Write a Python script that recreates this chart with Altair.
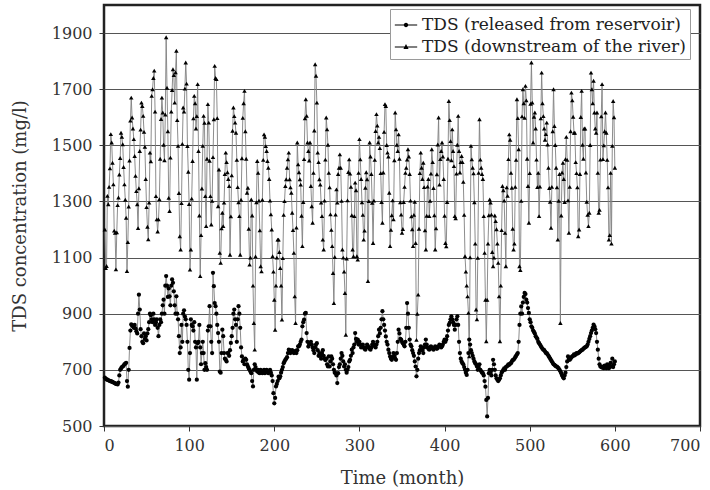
import altair as alt
import pandas as pd

# TDS downstream of the river (mg/l), one value per month
downstream = [
    1200, 1063, 1070, 1320, 1290, 1352, 1418, 1540, 1510, 1438, 1361, 1196,
    1188, 1058, 1190, 1287, 1314, 1396, 1455, 1545, 1530, 1504, 1423, 1361,
    1306, 1242, 1052, 1155, 1282, 1446, 1588, 1670, 1599, 1560, 1522, 1462,
    1391, 1337, 1290, 1205, 1347, 1480, 1556, 1652, 1640, 1605, 1548, 1495,
    1380, 1280, 1210, 1165, 1296, 1474, 1443, 1676, 1700, 1740, 1766, 1620,
    1319, 1236, 1193, 1236, 1308, 1452, 1594, 1670, 1617, 1502, 1447, 1610,
    1885, 1705, 1550, 1313, 1266, 1456, 1620, 1697, 1771, 1750, 1652, 1760,
    1837, 1590, 1498, 1330, 1176, 1129, 1294, 1505, 1635, 1620, 1702, 1795,
    1720, 1497, 1406, 1291, 1057, 1129, 1310, 1444, 1596, 1676, 1650, 1560,
    1604, 1718, 1480, 1250, 1034, 1180, 1346, 1498, 1605, 1580, 1319, 1212,
    1452, 1647, 1581, 1445, 1319, 1218, 1302, 1458, 1593, 1783, 1740, 1736,
    1597, 1283, 1414, 1117, 1081, 1204, 1260, 1212, 1296, 1398, 1474, 1440,
    1404, 1380, 1355, 1110, 1247, 1393, 1552, 1635, 1604, 1581, 1545, 1448,
    1351, 1297, 1248, 1110, 1306, 1454, 1598, 1650, 1694, 1550, 1452, 1331,
    1349, 1203, 1075, 1100, 1307, 1250, 1000, 867, 772, 1104, 1297, 1444,
    1402, 1303, 1197, 1069, 1051, 1306, 1448, 1539, 1530, 1497, 1480, 1444,
    1420, 1380, 1303, 1254, 1200, 1105, 1050, 950, 843, 1000, 1100, 1164,
    1164, 1120, 1063, 1000, 879, 1098, 1252, 1301, 1355, 1379, 1420, 1450,
    1474, 1379, 1350, 1331, 1260, 1198, 1117, 962, 867, 1207, 1510, 1432,
    1404, 1379, 1360, 1249, 1141, 1298, 1451, 1596, 1664, 1605, 1510, 1480,
    1446, 1510, 1355, 1283, 1224, 1402, 1553, 1789, 1748, 1652, 1474, 1440,
    1379, 1360, 1296, 1248, 1164, 1129, 1303, 1449, 1599, 1557, 1502, 1402,
    1350, 1254, 1199, 1141, 1045, 938, 1102, 1253, 1343, 1296, 1398, 1420,
    1468, 1420, 1302, 1129, 1100, 1050, 974, 825, 1097, 1304, 1405, 1450,
    1399, 1352, 1251, 1129, 1105, 1248, 1367, 1340, 1105, 1093, 1402, 1522,
    1450, 1380, 1297, 1252, 1164, 1196, 1349, 1404, 1379, 1016, 1301, 1510,
    1460, 1398, 1295, 1152, 1303, 1448, 1551, 1611, 1570, 1510, 1530, 1490,
    1401, 1298, 1224, 1403, 1548, 1647, 1640, 1501, 1474, 1460, 1331, 1141,
    1199, 1251, 1304, 1236, 1447, 1617, 1557, 1502, 1480, 1539, 1452, 1297,
    1253, 1188, 1202, 1298, 1352, 1402, 1420, 1449, 1486, 1460, 1398, 1303,
    1247, 1201, 1141, 1252, 1299, 1152, 807, 900, 968, 1203, 1401, 1474,
    1420, 1380, 1438, 1351, 1197, 1129, 1249, 1353, 1380, 1248, 1302, 1399,
    1486, 1440, 1348, 1251, 1129, 1204, 1397, 1503, 1599, 1360, 1451, 1480,
    1510, 1460, 1380, 1249, 1152, 1140, 1298, 1452, 1658, 1590, 1515, 1447,
    1557, 1480, 1426, 1248, 1240, 1399, 1502, 1605, 1480, 1403, 1440, 1462,
    1440, 1370, 1252, 1105, 1050, 1000, 962, 903, 748, 1101, 1498, 1450,
    1420, 1400, 1297, 1150, 915, 880, 1099, 1402, 1593, 1449, 1420, 1398,
    1380, 1248, 1117, 950, 802, 950, 1150, 1251, 1307, 1296, 1253, 1120,
    1069, 1100, 1250, 1230, 1201, 1150, 1081, 962, 802, 1000, 1198, 1355,
    1340, 1303, 1188, 1069, 1350, 1320, 1451, 1539, 1520, 1402, 1349, 1203,
    1129, 1150, 1352, 1448, 1664, 1597, 1486, 1069, 1056, 1302, 1603, 1700,
    1650, 1598, 1712, 1660, 1452, 1355, 1224, 1401, 1648, 1795, 1652, 1510,
    1602, 1617, 1560, 1449, 1351, 1402, 1248, 1353, 1596, 1759, 1650, 1604,
    1560, 1520, 1540, 1581, 1503, 1420, 1348, 1299, 1206, 1352, 1550, 1700,
    1569, 1501, 1420, 1350, 1164, 1302, 1398, 867, 1250, 1403, 1438, 1380,
    1298, 1451, 1530, 1448, 1304, 1188, 1352, 1550, 1688, 1660, 1602, 1545,
    1545, 1440, 1401, 1350, 1176, 1200, 1398, 1601, 1694, 1502, 1452, 1560,
    1560, 1403, 1299, 1252, 1212, 1260, 1501, 1759, 1700, 1650, 1730, 1617,
    1560, 1545, 1617, 1402, 1260, 1270, 1449, 1603, 1718, 1451, 1500, 1550,
    1617, 1545, 1448, 1350, 1164, 1180, 1402, 1150, 1498, 1658, 1600, 1420,
]

# TDS released from reservoir (mg/l), one value per month
released = [
    672, 668, 666, 665, 663, 662, 660, 660, 658, 657, 655, 654,
    652, 650, 650, 648, 655, 680, 700, 705, 710, 712, 715, 720,
    722, 725, 660, 640, 700, 778, 840, 862, 858, 855, 850, 860,
    848, 838, 830, 900, 968, 915, 845, 820, 800, 795, 830, 810,
    820, 805, 830, 845, 870, 900, 895, 880, 870, 900, 880, 860,
    870, 880, 850, 820, 860, 880, 870, 900, 930, 950, 900, 1000,
    1034, 1000, 960, 990, 962, 930, 1000, 1022, 1010, 980, 930, 900,
    962, 900, 880, 820, 760, 780, 860, 800, 900, 912, 890, 880,
    860, 800, 700, 665, 760, 880, 860, 855, 840, 870, 800, 780,
    665, 795, 800, 860, 780, 720, 760, 800, 760, 700, 724, 710,
    700, 840, 855, 927, 855, 800, 760, 1046, 998, 938, 927, 900,
    860, 831, 800, 694, 690, 760, 843, 820, 760, 740, 736, 730,
    760, 760, 750, 770, 796, 820, 850, 900, 915, 880, 860, 800,
    880, 927, 900, 850, 780, 748, 730, 736, 720, 740, 736, 720,
    712, 705, 700, 694, 688, 660, 641, 700, 720, 710, 700, 694,
    700, 690, 688, 700, 692, 688, 695, 700, 688, 692, 700, 694,
    688, 695, 700, 690, 680, 660, 617, 581, 600, 641, 650, 660,
    676, 670, 677, 690, 700, 710, 724, 730, 736, 740, 745, 760,
    772, 770, 760, 765, 770, 765, 760, 762, 768, 760, 770, 784,
    784, 790, 800, 808, 855, 870, 879, 900, 903, 831, 800, 783,
    790, 795, 800, 790, 780, 770, 760, 780, 790, 795, 770, 750,
    760, 750, 740, 760, 770, 750, 740, 735, 740, 720, 712, 748,
    712, 730, 748, 740, 720, 700, 690, 688, 680, 653, 688, 710,
    720, 740, 760, 750, 730, 712, 720, 700, 690, 700, 710, 730,
    736, 750, 772, 760, 780, 790, 831, 810, 800, 808, 790, 800,
    790, 780, 785, 790, 780, 775, 772, 780, 790, 785, 780, 775,
    772, 780, 790, 800, 790, 785, 780, 790, 800, 820, 843, 830,
    850, 880, 909, 880, 860, 840, 819, 800, 790, 772, 760, 748,
    740, 736, 745, 760, 750, 740, 736, 760, 800, 843, 830, 810,
    808, 800, 795, 790, 784, 800, 850, 938, 900, 850, 808, 790,
    784, 770, 760, 750, 730, 712, 677, 700, 740, 760, 770, 784,
    780, 770, 760, 780, 790, 808, 790, 780, 775, 772, 780, 784,
    780, 775, 772, 778, 784, 780, 775, 778, 784, 790, 786, 780,
    784, 790, 800, 808, 800, 808, 820, 840, 860, 867, 880, 891,
    880, 870, 860, 843, 860, 880, 891, 860, 800, 760, 740, 730,
    724, 720, 710, 700, 690, 682, 700, 760, 808, 790, 770, 760,
    750, 740, 730, 724, 720, 712, 700, 710, 720, 700, 695, 690,
    688, 680, 660, 640, 593, 534, 600, 688, 700, 690, 680, 700,
    736, 720, 700, 680, 670, 665, 660, 665, 670, 680, 690, 695,
    700, 705, 700, 710, 712, 715, 720, 718, 722, 724, 730, 735,
    736, 740, 745, 750, 755, 760, 800, 860, 900, 926, 900, 940,
    960, 974, 970, 950, 940, 920, 903, 880, 870, 855, 850, 840,
    835, 830, 820, 815, 810, 800, 795, 790, 785, 780, 775, 772,
    770, 765, 760, 760, 755, 750, 745, 740, 735, 730, 725, 720,
    718, 715, 712, 712, 708, 705, 700, 695, 688, 680, 675, 670,
    680, 690, 710, 730, 748, 740, 736, 740, 745, 748, 750, 755,
    752, 756, 760, 758, 760, 762, 765, 768, 770, 772, 775, 778,
    780, 782, 784, 790, 800, 810, 820, 831, 840, 850, 861, 855,
    845, 831, 800, 772, 740, 720, 712, 710, 708, 712, 706, 715,
    712, 706, 720, 710, 706, 715, 725, 712, 740, 710, 720, 730,
]

series_names = ["TDS (released from reservoir)", "TDS (downstream of the river)"]
x_ticks = [0, 100, 200, 300, 400, 500, 600, 700]
y_ticks = [500, 700, 900, 1100, 1300, 1500, 1700, 1900]

df = pd.DataFrame({
    "month": list(range(1, len(released) + 1)) + list(range(1, len(downstream) + 1)),
    "tds": released + downstream,
    "series": [series_names[0]] * len(released) + [series_names[1]] * len(downstream),
})

FONT = "DejaVu Serif"

x_enc = alt.X("month:Q", scale=alt.Scale(domain=[0, 700], nice=False),
              axis=alt.Axis(values=x_ticks, title="Time (month)", grid=False,
                            titlePadding=16, labelPadding=6))
y_enc = alt.Y("tds:Q", scale=alt.Scale(domain=[500, 2000], nice=False, zero=False),
              axis=alt.Axis(values=y_ticks, format="d", title="TDS concentration (mg/l)",
                            grid=True, titlePadding=22, labelPadding=7))

base = alt.Chart(df)

lines = base.mark_line(color="#808080", strokeWidth=0.9).encode(
    x=x_enc, y=y_enc, detail="series:N"
)

pts_rel = base.transform_filter(
    alt.datum.series == series_names[0]
).mark_point(shape="circle", filled=True, color="black", size=18, opacity=1).encode(
    x="month:Q", y="tds:Q"
)

pts_down = base.transform_filter(
    alt.datum.series == series_names[1]
).mark_point(shape="triangle-up", filled=True, color="black", size=20, opacity=1).encode(
    x="month:Q", y="tds:Q"
)

# legend symbols: a short line (thin filled bar) with the series marker in the middle
path_circle = ("M-1,-0.05H1V0.05H-1Z"
               "M-0.2,0A0.2,0.2,0,1,1,0.2,0A0.2,0.2,0,1,1,-0.2,0Z")
path_tri = ("M-1,-0.05H1V0.05H-1Z"
            "M0,-0.26L0.23,0.17L-0.23,0.17Z")

legend_layer = base.transform_filter("false").mark_point(
    filled=True, color="black", opacity=1
).encode(
    x="month:Q", y="tds:Q",
    shape=alt.Shape("series:N",
                    scale=alt.Scale(domain=series_names, range=[path_circle, path_tri]),
                    legend=alt.Legend(title=None, orient="none", legendX=286, legendY=4,
                                      symbolSize=500, symbolFillColor="black",
                                      symbolOpacity=1,
                                      labelFont=FONT, labelFontSize=17, labelColor="#222",
                                      labelLimit=400, padding=4, rowPadding=2,
                                      strokeColor="#9a9a9a", fillColor="white",
                                      cornerRadius=0)),
)

chart = alt.layer(lines, pts_rel, pts_down, legend_layer).properties(
    width=596, height=421,
    autosize=alt.AutoSizeParams(type="none"),
    padding={"left": 104, "top": 5, "right": 10, "bottom": 64},
).configure_view(
    stroke="#222", strokeWidth=2.5
).configure_axis(
    labelFont=FONT, labelFontSize=16, labelColor="#333",
    titleFont=FONT, titleFontSize=18, titleFontWeight="normal", titleColor="#333",
    domain=False, tickColor="#333", tickSize=5,
    gridColor="#555", gridWidth=1.2,
)

chart.save("out.html", embed_options={"renderer": "svg", "actions": False})
